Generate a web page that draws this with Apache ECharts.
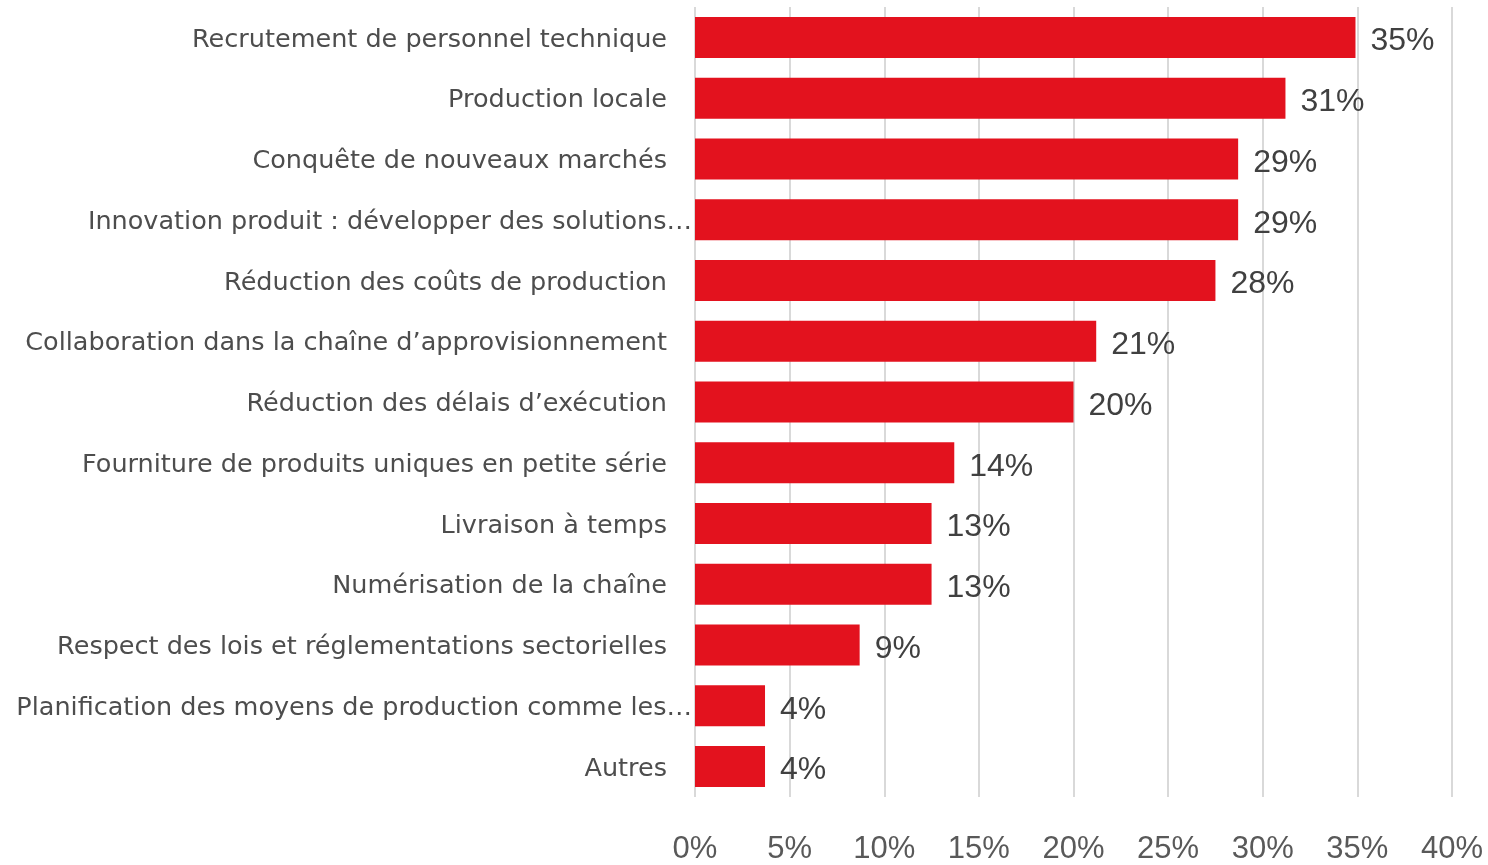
<!DOCTYPE html>
<html><head><meta charset="utf-8">
<script src="https://cdn.jsdelivr.net/npm/echarts@6/dist/echarts.min.js"></script>
<style>html,body{margin:0;padding:0;background:#fff}#c{width:1488px;height:865px}</style>
</head><body><div id="c"></div>
<script>
const categories = [
  "Recrutement de personnel technique",
  "Production locale",
  "Conquête de nouveaux marchés",
  "Innovation produit : développer des solutions…",
  "Réduction des coûts de production",
  "Collaboration dans la chaîne d’approvisionnement",
  "Réduction des délais d’exécution",
  "Fourniture de produits uniques en petite série",
  "Livraison à temps",
  "Numérisation de la chaîne",
  "Respect des lois et réglementations sectorielles",
  "Planification des moyens de production comme les…",
  "Autres"
];
const values = [34.9, 31.2, 28.7, 28.7, 27.5, 21.2, 20.0, 13.7, 12.5, 12.5, 8.7, 3.7, 3.7];
const valueLabels = ["35%", "31%", "29%", "29%", "28%", "21%", "20%", "14%", "13%", "13%", "9%", "4%", "4%"];
const xTicks = [0, 5, 10, 15, 20, 25, 30, 35, 40];

const chart = echarts.init(document.getElementById('c'));
chart.setOption({
  animation: false,
  grid: {left: 695, right: 36, top: 7, bottom: 62},
  xAxis: {
    type: 'value', min: 0, max: 40, interval: 5,
    axisLine: {show: false}, axisTick: {show: false},
    splitLine: {lineStyle: {color: '#d9d9d9', width: 2}},
    axisLabel: {
      margin: 37, color: '#595959', fontSize: 31, fontFamily: 'Liberation Sans',
      formatter: v => xTicks.includes(v) ? v + '%' : ''
    }
  },
  yAxis: {
    type: 'category', data: categories, inverse: true,
    axisLine: {show: false}, axisTick: {show: false},
    axisLabel: {
      margin: 3, color: '#4d4d4d', fontSize: 25.5, fontFamily: 'DejaVu Sans',
      formatter: v => v.endsWith('…') ? '{t|' + v + '}' : '{n|' + v + '}',
      rich: {
        n: {fontSize: 25.5, color: '#4d4d4d', fontFamily: 'DejaVu Sans', padding: [5, 25, 0, 0]},
        t: {fontSize: 25.5, color: '#4d4d4d', fontFamily: 'DejaVu Sans', padding: [5, 0, 0, 0]}
      }
    }
  },
  series: [{
    type: 'bar', data: values, barWidth: 41,
    itemStyle: {color: '#E3121E'},
    label: {
      show: true, position: 'right', distance: 15, offset: [0, 4],
      color: '#404040', fontSize: 32, fontFamily: 'Liberation Sans',
      formatter: p => valueLabels[p.dataIndex]
    }
  }]
});
</script></body></html>
